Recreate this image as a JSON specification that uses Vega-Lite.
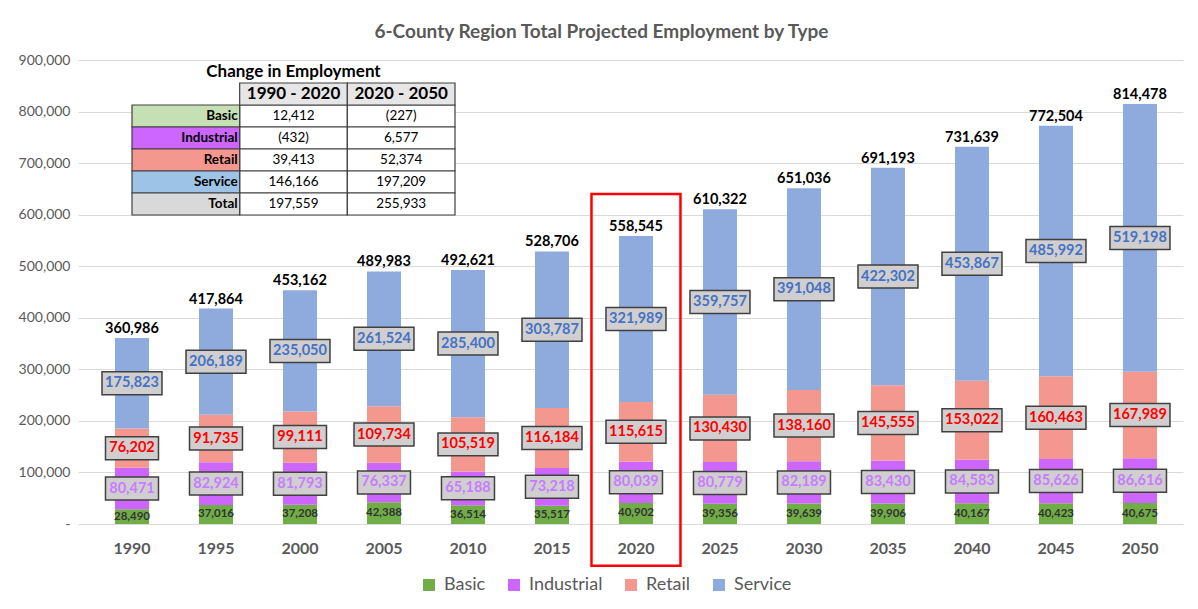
{
  "$schema": "https://vega.github.io/schema/vega-lite/v6.json",
  "width": 1105,
  "height": 464,
  "autosize": {"type": "none"},
  "padding": {"top": 60, "left": 78, "right": 15, "bottom": 85},
  "background": "white",
  "config": {"font": "Lato", "view": {"stroke": null}},
  "title": {"text": "6-County Region Total Projected Employment by Type", "fontSize": 19, "fontWeight": "bold", "color": "#595959", "anchor": "middle", "frame": "group", "offset": 11, "dx": -29},
  "datasets": {
    "emp": [
      {"year": "1990", "type": "Basic", "value": 28490}, {"year": "1990", "type": "Industrial", "value": 80471}, {"year": "1990", "type": "Retail", "value": 76202}, {"year": "1990", "type": "Service", "value": 175823},
      {"year": "1995", "type": "Basic", "value": 37016}, {"year": "1995", "type": "Industrial", "value": 82924}, {"year": "1995", "type": "Retail", "value": 91735}, {"year": "1995", "type": "Service", "value": 206189},
      {"year": "2000", "type": "Basic", "value": 37208}, {"year": "2000", "type": "Industrial", "value": 81793}, {"year": "2000", "type": "Retail", "value": 99111}, {"year": "2000", "type": "Service", "value": 235050},
      {"year": "2005", "type": "Basic", "value": 42388}, {"year": "2005", "type": "Industrial", "value": 76337}, {"year": "2005", "type": "Retail", "value": 109734}, {"year": "2005", "type": "Service", "value": 261524},
      {"year": "2010", "type": "Basic", "value": 36514}, {"year": "2010", "type": "Industrial", "value": 65188}, {"year": "2010", "type": "Retail", "value": 105519}, {"year": "2010", "type": "Service", "value": 285400},
      {"year": "2015", "type": "Basic", "value": 35517}, {"year": "2015", "type": "Industrial", "value": 73218}, {"year": "2015", "type": "Retail", "value": 116184}, {"year": "2015", "type": "Service", "value": 303787},
      {"year": "2020", "type": "Basic", "value": 40902}, {"year": "2020", "type": "Industrial", "value": 80039}, {"year": "2020", "type": "Retail", "value": 115615}, {"year": "2020", "type": "Service", "value": 321989},
      {"year": "2025", "type": "Basic", "value": 39356}, {"year": "2025", "type": "Industrial", "value": 80779}, {"year": "2025", "type": "Retail", "value": 130430}, {"year": "2025", "type": "Service", "value": 359757},
      {"year": "2030", "type": "Basic", "value": 39639}, {"year": "2030", "type": "Industrial", "value": 82189}, {"year": "2030", "type": "Retail", "value": 138160}, {"year": "2030", "type": "Service", "value": 391048},
      {"year": "2035", "type": "Basic", "value": 39906}, {"year": "2035", "type": "Industrial", "value": 83430}, {"year": "2035", "type": "Retail", "value": 145555}, {"year": "2035", "type": "Service", "value": 422302},
      {"year": "2040", "type": "Basic", "value": 40167}, {"year": "2040", "type": "Industrial", "value": 84583}, {"year": "2040", "type": "Retail", "value": 153022}, {"year": "2040", "type": "Service", "value": 453867},
      {"year": "2045", "type": "Basic", "value": 40423}, {"year": "2045", "type": "Industrial", "value": 85626}, {"year": "2045", "type": "Retail", "value": 160463}, {"year": "2045", "type": "Service", "value": 485992},
      {"year": "2050", "type": "Basic", "value": 40675}, {"year": "2050", "type": "Industrial", "value": 86616}, {"year": "2050", "type": "Retail", "value": 167989}, {"year": "2050", "type": "Service", "value": 519198}
    ],
    "change": [
      {"type": "Basic", "period": "1990 - 2020", "change": 12412}, {"type": "Basic", "period": "2020 - 2050", "change": -227},
      {"type": "Industrial", "period": "1990 - 2020", "change": -432}, {"type": "Industrial", "period": "2020 - 2050", "change": 6577},
      {"type": "Retail", "period": "1990 - 2020", "change": 39413}, {"type": "Retail", "period": "2020 - 2050", "change": 52374},
      {"type": "Service", "period": "1990 - 2020", "change": 146166}, {"type": "Service", "period": "2020 - 2050", "change": 197209},
      {"type": "Total", "period": "1990 - 2020", "change": 197559}, {"type": "Total", "period": "2020 - 2050", "change": 255933}
    ]
  },
  "layer": [
    {
      "data": {"name": "emp"},
      "encoding": {
        "x": {"field": "year", "type": "nominal", "title": null,
          "scale": {"paddingInner": 0.595, "paddingOuter": 0.375, "align": 0.587},
          "axis": {"labelAngle": 0, "labelFontSize": 16, "labelFontWeight": "bold", "labelColor": "#595959", "labelPadding": 16, "ticks": false, "domain": false, "grid": false}}
      },
      "layer": [
        {
          "transform": [{"stack": "value", "groupby": ["year"], "sort": [{"field": "type"}], "as": ["v0", "v1"]}],
          "mark": {"type": "bar"},
          "encoding": {
            "y": {"field": "v0", "type": "quantitative", "title": null,
              "scale": {"domain": [0, 900000], "nice": false},
              "axis": {"values": [0, 100000, 200000, 300000, 400000, 500000, 600000, 700000, 800000, 900000], "labelExpr": "datum.value === 0 ? '-' : format(datum.value, ',')", "domain": false, "ticks": false, "labelFontSize": 14, "labelColor": "#595959", "labelPadding": 8, "gridColor": "#D9D9D9", "gridWidth": 1}},
            "y2": {"field": "v1"},
            "color": {"field": "type", "type": "nominal",
              "scale": {"domain": ["Basic", "Industrial", "Retail", "Service"], "range": ["#70AD47", "#CC66FF", "#F4978E", "#8FAADC"]},
              "legend": {"title": null, "orient": "none", "legendX": 342, "legendY": 516, "direction": "horizontal", "columns": 4, "symbolType": "square", "symbolSize": 144, "symbolStrokeWidth": 0, "labelFontSize": 18, "labelColor": "#595959", "columnPadding": 19, "labelOffset": 6}}
          }
        },
        {
          "transform": [
            {"stack": "value", "groupby": ["year"], "sort": [{"field": "type"}], "as": ["v0", "v1"]},
            {"calculate": "(datum.v0 + datum.v1) / 2", "as": "mid"},
            {"filter": "datum.type !== 'Basic'"}
          ],
          "mark": {"type": "point", "filled": true, "fill": "#D0CECE", "stroke": "#404040", "strokeWidth": 1.5, "opacity": 1},
          "encoding": {
            "y": {"field": "mid", "type": "quantitative"},
            "shape": {"condition": {"test": "datum.value >= 100000", "value": "M-1,-0.383H1V0.383H-1Z"}, "value": "M-1,-0.434H1V0.434H-1Z"},
            "size": {"condition": {"test": "datum.value >= 100000", "value": 3600}, "value": 2809}
          }
        },
        {
          "transform": [
            {"stack": "value", "groupby": ["year"], "sort": [{"field": "type"}], "as": ["v0", "v1"]},
            {"calculate": "(datum.v0 + datum.v1) / 2", "as": "mid"}
          ],
          "mark": {"type": "text", "fontWeight": "bold", "baseline": "middle"},
          "encoding": {
            "y": {"field": "mid", "type": "quantitative"},
            "text": {"field": "value", "type": "quantitative", "format": ","},
            "color": {"condition": [
              {"test": "datum.type === 'Service'", "value": "#4472C4"},
              {"test": "datum.type === 'Retail'", "value": "#FF0000"},
              {"test": "datum.type === 'Industrial'", "value": "#C77DFF"}
            ], "value": "#333333"},
            "size": {"condition": {"test": "datum.type === 'Basic'", "value": 11.5}, "value": 14.5}
          }
        },
        {
          "transform": [{"aggregate": [{"op": "sum", "field": "value", "as": "total"}], "groupby": ["year"]}],
          "mark": {"type": "text", "fontWeight": "bold", "fontSize": 14.5, "color": "#000000", "baseline": "middle", "dy": -9},
          "encoding": {
            "y": {"field": "total", "type": "quantitative"},
            "text": {"field": "total", "type": "quantitative", "format": ","}
          }
        },
        {
          "transform": [{"filter": "datum.year === '2020' && datum.type === 'Basic'"}],
          "mark": {"type": "bar", "width": 89, "fillOpacity": 0, "stroke": "#FF0000", "strokeWidth": 2.5},
          "encoding": {
            "y": {"datum": 640000, "type": "quantitative"},
            "y2": {"datum": -81000}
          }
        }
      ]
    },
    {
      "data": {"name": "change"},
      "encoding": {
        "x": {"field": "period", "type": "nominal", "axis": null,
          "scale": {"domain": ["type", "1990 - 2020", "2020 - 2050"], "paddingInner": 0, "paddingOuter": 0, "range": [54, 377]}},
        "y": {"field": "type", "type": "nominal", "axis": null,
          "scale": {"domain": ["title", "header", "Basic", "Industrial", "Retail", "Service", "Total"], "paddingInner": 0, "paddingOuter": 0, "range": [1, 155]}}
      },
      "layer": [
        {
          "mark": {"type": "rect", "fill": "#FFFFFF", "stroke": "#404040", "strokeWidth": 1.2}
        },
        {
          "transform": [{"filter": "datum.period === '1990 - 2020'"}],
          "mark": {"type": "rect", "stroke": "#404040", "strokeWidth": 1.2},
          "encoding": {
            "x": {"datum": "type"},
            "fill": {"field": "type", "type": "nominal", "legend": null,
              "scale": {"domain": ["Basic", "Industrial", "Retail", "Service", "Total"], "range": ["#C5E0B4", "#CC66FF", "#F4978E", "#9DC3E6", "#D9D9D9"]}}
          }
        },
        {
          "transform": [{"filter": "datum.type === 'Basic'"}],
          "mark": {"type": "rect", "fill": "#E7E6E6", "stroke": "#404040", "strokeWidth": 1.2},
          "encoding": {"y": {"datum": "header"}}
        },
        {
          "mark": {"type": "text", "fontSize": 13.5, "color": "#000000", "baseline": "middle"},
          "encoding": {
            "text": {"field": "change", "type": "quantitative", "format": "(,"},
            "fontWeight": {"condition": {"test": "datum.type === 'Total'", "value": "bold"}, "value": "normal"}
          }
        },
        {
          "transform": [{"filter": "datum.period === '1990 - 2020'"}],
          "mark": {"type": "text", "fontSize": 13.5, "fontWeight": "bold", "color": "#000000", "align": "right", "baseline": "middle", "dx": -2},
          "encoding": {
            "x": {"datum": "type", "bandPosition": 1},
            "text": {"field": "type", "type": "nominal"}
          }
        },
        {
          "transform": [{"filter": "datum.type === 'Basic'"}],
          "mark": {"type": "text", "fontSize": 17, "fontWeight": "bold", "color": "#000000", "baseline": "middle"},
          "encoding": {
            "y": {"datum": "header"},
            "text": {"field": "period", "type": "nominal"}
          }
        },
        {
          "transform": [{"filter": "datum.type === 'Basic' && datum.period === '1990 - 2020'"}],
          "mark": {"type": "text", "fontSize": 17, "fontWeight": "bold", "color": "#000000", "baseline": "middle"},
          "encoding": {
            "y": {"datum": "title"},
            "text": {"value": "Change in Employment"}
          }
        }
      ]
    }
  ],
  "resolve": {"scale": {"x": "independent", "y": "independent"}}
}
